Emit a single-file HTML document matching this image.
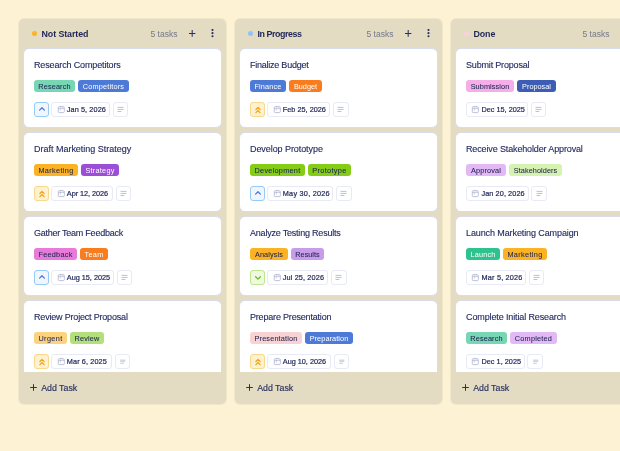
<!DOCTYPE html>
<html><head><meta charset="utf-8"><style>
*{box-sizing:border-box;margin:0;padding:0}
html,body{width:620px;height:451px;overflow:hidden;background:#fdf3d4;font-family:"Liberation Sans",sans-serif;color:#232a5c}
.col{position:absolute;top:18px;width:209px;height:387px;border-radius:6px;overflow:hidden;will-change:transform;box-shadow:inset 0 0 0 1px rgba(227,219,194,0.5)}
.col::before{content:"";position:absolute;left:1px;top:1px;right:1px;bottom:1px;background:#e3dbc2;border-radius:5px}
.dot{position:absolute;left:13.5px;top:13.3px;width:5px;height:5px;border-radius:50%}
.ctitle{position:absolute;left:23.5px;top:10.6px;font-size:8.9px;font-weight:bold;line-height:11px;color:#1f2657;white-space:nowrap}
.cnt{position:absolute;left:132.5px;top:10.5px;font-size:8.5px;line-height:10px;color:#74788b;white-space:nowrap}
.plus{position:absolute;left:170.8px;top:12.1px;display:block}
.kebab{position:absolute;left:192.6px;top:11.1px;display:block}
.list{position:absolute;left:5px;top:30px;width:199px;height:324px;overflow:hidden}
.card{position:absolute;left:0;width:199px;height:80px;background:#fff;border:1px solid #d8dbea;border-radius:6px}
.t{position:absolute;left:10px;top:10.6px;font-size:9px;line-height:11px;white-space:nowrap;color:#232a60;-webkit-text-stroke:0.12px #232a60}
.tags{position:absolute;left:10px;top:31px;height:12px;display:flex;gap:3px}
.tag{height:12px;line-height:13px;font-size:7.3px;text-align:center;border-radius:3px;white-space:nowrap}
.row{position:absolute;left:10px;top:53px;height:14.5px;display:flex;gap:2.8px}
.pri{position:relative;width:14.5px;height:14.5px;border-radius:3px;border:1px solid}
.pi{position:absolute;display:block}
.date{position:relative;height:14.5px;border:1px solid #e8eaf5;border-radius:3px;font-size:7.3px;color:#23295a;-webkit-text-stroke:0.2px #23295a;white-space:nowrap}
.date .cal{position:absolute;left:4.3px;top:1.7px;display:block}
.date span{position:absolute;left:14.5px;top:2.5px;line-height:8px}
.desc{position:relative;width:15.5px;height:14.5px;border:1px solid #e8eaf5;border-radius:3px}
.add{position:absolute;left:0;top:354px;width:209px;height:32px}
.add span{position:absolute;left:23.2px;top:10.5px;font-size:8.8px;line-height:11px;color:#2a3060;-webkit-text-stroke:0.15px currentColor}
.add svg{position:absolute;left:12px;top:12.4px;display:block}
.blue{background:#f0f6fe;border-color:#96cbf7}
.amber{background:#fdf1d2;border-color:#f8d88a}
.green{background:#eef9e0;border-color:#bde68f}
</style></head><body>
<div class="col" style="left:18px">
<div class="dot" style="background:#fbb32a"></div><div class="ctitle" style="letter-spacing:-0.090px">Not Started</div><div class="cnt">5 tasks</div><span class="plus"><svg width="7" height="7" viewBox="0 0 7 7" style="display:block"><path d="M3.2 0V6.8M0 3.4H6.4" stroke="#2a3060" stroke-width="1.05"/></svg></span><span class="kebab"><svg width="3" height="9" viewBox="0 0 3 9" style="display:block"><circle cx="1.5" cy="1" r="1.05" fill="#2a3060"/><circle cx="1.5" cy="4.15" r="1.05" fill="#2a3060"/><circle cx="1.5" cy="7.3" r="1.05" fill="#2a3060"/></svg></span>
<div class="list">
<div class="card" style="top:0px"><div class="t" style="letter-spacing:-0.142px">Research Competitors</div><div class="tags"><span class="tag" style="width:41px;background:#78d6b5;color:#1e2452;-webkit-text-stroke:0.06px #1e2452;letter-spacing:0.129px">Research</span><span class="tag" style="width:51px;background:#4d7ad7;color:#fff;letter-spacing:0.180px">Competitors</span></div><div class="row"><div class="pri blue"><svg class="pi" width="8" height="6" viewBox="0 0 8 6" style="left:2.5px;top:3.3px"><path d="M1.6 4.1L4 1.7L6.4 4.1" fill="none" stroke="#5576d6" stroke-width="1.3" stroke-linecap="round" stroke-linejoin="round"/></svg></div><div class="date" style="width:58.5px"><svg class="cal" width="9" height="9" viewBox="0 0 9 9"><rect x="1.3" y="1.7" width="6" height="5.9" rx="0.9" fill="none" stroke="#b7bbd5" stroke-width="0.9"/><path d="M1.3 3.4H7.3M3.3 0.9V2.3M5.3 0.9V2.3M3.3 3.4V5.4" stroke="#b7bbd5" stroke-width="0.8"/></svg><span style="letter-spacing:0.090px">Jan 5, 2026</span></div><div class="desc"><svg width="8" height="8" viewBox="0 0 8 8" style="position:absolute;left:3.4px;top:3px;display:block"><path d="M0.5 1.4H6.5M0.5 3.45H6.5M0.5 5.5H4.4" stroke="#b4b8d6" stroke-width="0.9"/></svg></div></div></div>
<div class="card" style="top:84px"><div class="t" style="letter-spacing:-0.013px">Draft Marketing Strategy</div><div class="tags"><span class="tag" style="width:44px;background:#fbb325;color:#1e2452;-webkit-text-stroke:0.06px #1e2452;letter-spacing:0.338px">Marketing</span><span class="tag" style="width:38px;background:#9b4fd6;color:#fff;letter-spacing:0.258px">Strategy</span></div><div class="row"><div class="pri amber"><svg class="pi" width="8" height="8" viewBox="0 0 8 8" style="left:2.6px;top:2.5px"><path d="M1.9 3.5L4 1.3L6.1 3.5M1.9 6.7L4 4.5L6.1 6.7" fill="none" stroke="#f0a519" stroke-width="1.2" stroke-linecap="round" stroke-linejoin="round"/></svg></div><div class="date" style="width:61.5px"><svg class="cal" width="9" height="9" viewBox="0 0 9 9"><rect x="1.3" y="1.7" width="6" height="5.9" rx="0.9" fill="none" stroke="#b7bbd5" stroke-width="0.9"/><path d="M1.3 3.4H7.3M3.3 0.9V2.3M5.3 0.9V2.3M3.3 3.4V5.4" stroke="#b7bbd5" stroke-width="0.8"/></svg><span style="letter-spacing:-0.038px">Apr 12, 2026</span></div><div class="desc"><svg width="8" height="8" viewBox="0 0 8 8" style="position:absolute;left:3.4px;top:3px;display:block"><path d="M0.5 1.4H6.5M0.5 3.45H6.5M0.5 5.5H4.4" stroke="#b4b8d6" stroke-width="0.9"/></svg></div></div></div>
<div class="card" style="top:168px"><div class="t" style="letter-spacing:-0.249px">Gather Team Feedback</div><div class="tags"><span class="tag" style="width:43px;background:#e87ad9;color:#1e2452;-webkit-text-stroke:0.06px #1e2452;letter-spacing:0.257px">Feedback</span><span class="tag" style="width:28px;background:#f97c1f;color:#fff;letter-spacing:0.300px">Team</span></div><div class="row"><div class="pri blue"><svg class="pi" width="8" height="6" viewBox="0 0 8 6" style="left:2.5px;top:3.3px"><path d="M1.6 4.1L4 1.7L6.4 4.1" fill="none" stroke="#5576d6" stroke-width="1.3" stroke-linecap="round" stroke-linejoin="round"/></svg></div><div class="date" style="width:62.5px"><svg class="cal" width="9" height="9" viewBox="0 0 9 9"><rect x="1.3" y="1.7" width="6" height="5.9" rx="0.9" fill="none" stroke="#b7bbd5" stroke-width="0.9"/><path d="M1.3 3.4H7.3M3.3 0.9V2.3M5.3 0.9V2.3M3.3 3.4V5.4" stroke="#b7bbd5" stroke-width="0.8"/></svg><span style="letter-spacing:-0.011px">Aug 15, 2025</span></div><div class="desc"><svg width="8" height="8" viewBox="0 0 8 8" style="position:absolute;left:3.4px;top:3px;display:block"><path d="M0.5 1.4H6.5M0.5 3.45H6.5M0.5 5.5H4.4" stroke="#b4b8d6" stroke-width="0.9"/></svg></div></div></div>
<div class="card" style="top:252px"><div class="t" style="letter-spacing:-0.189px">Review Project Proposal</div><div class="tags"><span class="tag" style="width:33px;background:#fcd27e;color:#1e2452;-webkit-text-stroke:0.06px #1e2452;letter-spacing:0.360px">Urgent</span><span class="tag" style="width:34px;background:#b3e07a;color:#1e2452;-webkit-text-stroke:0.06px #1e2452;letter-spacing:0.180px">Review</span></div><div class="row"><div class="pri amber"><svg class="pi" width="8" height="8" viewBox="0 0 8 8" style="left:2.6px;top:2.5px"><path d="M1.9 3.5L4 1.3L6.1 3.5M1.9 6.7L4 4.5L6.1 6.7" fill="none" stroke="#f0a519" stroke-width="1.2" stroke-linecap="round" stroke-linejoin="round"/></svg></div><div class="date" style="width:60.6px"><svg class="cal" width="9" height="9" viewBox="0 0 9 9"><rect x="1.3" y="1.7" width="6" height="5.9" rx="0.9" fill="none" stroke="#b7bbd5" stroke-width="0.9"/><path d="M1.3 3.4H7.3M3.3 0.9V2.3M5.3 0.9V2.3M3.3 3.4V5.4" stroke="#b7bbd5" stroke-width="0.8"/></svg><span style="letter-spacing:0.108px">Mar 6, 2025</span></div><div class="desc"><svg width="8" height="8" viewBox="0 0 8 8" style="position:absolute;left:4.6px;top:3.8px;display:block"><rect x="0.2" y="0.5" width="5.1" height="2.6" fill="#d3d6e8"/><path d="M0.2 4.3H3.9" stroke="#c2c6dd" stroke-width="0.9"/></svg></div></div></div>
</div>
<div class="add"><svg width="7" height="7" viewBox="0 0 7 7"><path d="M3.5 0.2V6.8M0.2 3.5H6.8" stroke="#2a3060" stroke-width="1"/></svg><span>Add Task</span></div>
</div>
<div class="col" style="left:234px">
<div class="dot" style="background:#93c2f5"></div><div class="ctitle" style="letter-spacing:-0.432px">In Progress</div><div class="cnt">5 tasks</div><span class="plus"><svg width="7" height="7" viewBox="0 0 7 7" style="display:block"><path d="M3.2 0V6.8M0 3.4H6.4" stroke="#2a3060" stroke-width="1.05"/></svg></span><span class="kebab"><svg width="3" height="9" viewBox="0 0 3 9" style="display:block"><circle cx="1.5" cy="1" r="1.05" fill="#2a3060"/><circle cx="1.5" cy="4.15" r="1.05" fill="#2a3060"/><circle cx="1.5" cy="7.3" r="1.05" fill="#2a3060"/></svg></span>
<div class="list">
<div class="card" style="top:0px"><div class="t" style="letter-spacing:-0.239px">Finalize Budget</div><div class="tags"><span class="tag" style="width:36px;background:#4d7ad7;color:#fff;letter-spacing:0.150px">Finance</span><span class="tag" style="width:33px;background:#f97c1f;color:#fff;letter-spacing:0.000px">Budget</span></div><div class="row"><div class="pri amber"><svg class="pi" width="8" height="8" viewBox="0 0 8 8" style="left:2.6px;top:2.5px"><path d="M1.9 3.5L4 1.3L6.1 3.5M1.9 6.7L4 4.5L6.1 6.7" fill="none" stroke="#f0a519" stroke-width="1.2" stroke-linecap="round" stroke-linejoin="round"/></svg></div><div class="date" style="width:63px"><svg class="cal" width="9" height="9" viewBox="0 0 9 9"><rect x="1.3" y="1.7" width="6" height="5.9" rx="0.9" fill="none" stroke="#b7bbd5" stroke-width="0.9"/><path d="M1.3 3.4H7.3M3.3 0.9V2.3M5.3 0.9V2.3M3.3 3.4V5.4" stroke="#b7bbd5" stroke-width="0.8"/></svg><span style="letter-spacing:0.010px">Feb 25, 2026</span></div><div class="desc"><svg width="8" height="8" viewBox="0 0 8 8" style="position:absolute;left:3.4px;top:3px;display:block"><path d="M0.5 1.4H6.5M0.5 3.45H6.5M0.5 5.5H4.4" stroke="#b4b8d6" stroke-width="0.9"/></svg></div></div></div>
<div class="card" style="top:84px"><div class="t" style="letter-spacing:-0.072px">Develop Prototype</div><div class="tags"><span class="tag" style="width:55px;background:#84cc16;color:#1e2452;-webkit-text-stroke:0.06px #1e2452;letter-spacing:0.270px">Development</span><span class="tag" style="width:43px;background:#84cc16;color:#1e2452;-webkit-text-stroke:0.06px #1e2452;letter-spacing:0.338px">Prototype</span></div><div class="row"><div class="pri blue"><svg class="pi" width="8" height="6" viewBox="0 0 8 6" style="left:2.5px;top:3.3px"><path d="M1.6 4.1L4 1.7L6.4 4.1" fill="none" stroke="#5576d6" stroke-width="1.3" stroke-linecap="round" stroke-linejoin="round"/></svg></div><div class="date" style="width:66px"><svg class="cal" width="9" height="9" viewBox="0 0 9 9"><rect x="1.3" y="1.7" width="6" height="5.9" rx="0.9" fill="none" stroke="#b7bbd5" stroke-width="0.9"/><path d="M1.3 3.4H7.3M3.3 0.9V2.3M5.3 0.9V2.3M3.3 3.4V5.4" stroke="#b7bbd5" stroke-width="0.8"/></svg><span style="letter-spacing:0.239px">May 30, 2026</span></div><div class="desc"><svg width="8" height="8" viewBox="0 0 8 8" style="position:absolute;left:3.4px;top:3px;display:block"><path d="M0.5 1.4H6.5M0.5 3.45H6.5M0.5 5.5H4.4" stroke="#b4b8d6" stroke-width="0.9"/></svg></div></div></div>
<div class="card" style="top:168px"><div class="t" style="letter-spacing:-0.208px">Analyze Testing Results</div><div class="tags"><span class="tag" style="width:38px;background:#fbb325;color:#1e2452;-webkit-text-stroke:0.06px #1e2452;letter-spacing:0.128px">Analysis</span><span class="tag" style="width:33px;background:#c79ce8;color:#1e2452;-webkit-text-stroke:0.06px #1e2452;letter-spacing:0.000px">Results</span></div><div class="row"><div class="pri green"><svg class="pi" width="8" height="6" viewBox="0 0 8 6" style="left:2.5px;top:4px"><path d="M1.6 1.7L4 4.1L6.4 1.7" fill="none" stroke="#6cbb2c" stroke-width="1.3" stroke-linecap="round" stroke-linejoin="round"/></svg></div><div class="date" style="width:61px"><svg class="cal" width="9" height="9" viewBox="0 0 9 9"><rect x="1.3" y="1.7" width="6" height="5.9" rx="0.9" fill="none" stroke="#b7bbd5" stroke-width="0.9"/><path d="M1.3 3.4H7.3M3.3 0.9V2.3M5.3 0.9V2.3M3.3 3.4V5.4" stroke="#b7bbd5" stroke-width="0.8"/></svg><span style="letter-spacing:0.127px">Jul 25, 2026</span></div><div class="desc"><svg width="8" height="8" viewBox="0 0 8 8" style="position:absolute;left:3.4px;top:3px;display:block"><path d="M0.5 1.4H6.5M0.5 3.45H6.5M0.5 5.5H4.4" stroke="#b4b8d6" stroke-width="0.9"/></svg></div></div></div>
<div class="card" style="top:252px"><div class="t" style="letter-spacing:-0.189px">Prepare Presentation</div><div class="tags"><span class="tag" style="width:52px;background:#f9d3d3;color:#1e2452;-webkit-text-stroke:0.06px #1e2452;letter-spacing:0.164px">Presentation</span><span class="tag" style="width:48px;background:#4d7ad7;color:#fff;letter-spacing:0.090px">Preparation</span></div><div class="row"><div class="pri amber"><svg class="pi" width="8" height="8" viewBox="0 0 8 8" style="left:2.6px;top:2.5px"><path d="M1.9 3.5L4 1.3L6.1 3.5M1.9 6.7L4 4.5L6.1 6.7" fill="none" stroke="#f0a519" stroke-width="1.2" stroke-linecap="round" stroke-linejoin="round"/></svg></div><div class="date" style="width:63.5px"><svg class="cal" width="9" height="9" viewBox="0 0 9 9"><rect x="1.3" y="1.7" width="6" height="5.9" rx="0.9" fill="none" stroke="#b7bbd5" stroke-width="0.9"/><path d="M1.3 3.4H7.3M3.3 0.9V2.3M5.3 0.9V2.3M3.3 3.4V5.4" stroke="#b7bbd5" stroke-width="0.8"/></svg><span style="letter-spacing:-0.011px">Aug 10, 2026</span></div><div class="desc"><svg width="8" height="8" viewBox="0 0 8 8" style="position:absolute;left:4.6px;top:3.8px;display:block"><rect x="0.2" y="0.5" width="5.1" height="2.6" fill="#d3d6e8"/><path d="M0.2 4.3H3.9" stroke="#c2c6dd" stroke-width="0.9"/></svg></div></div></div>
</div>
<div class="add"><svg width="7" height="7" viewBox="0 0 7 7"><path d="M3.5 0.2V6.8M0.2 3.5H6.8" stroke="#2a3060" stroke-width="1"/></svg><span>Add Task</span></div>
</div>
<div class="col" style="left:450px">
<div class="dot" style="background:#f8d3dc"></div><div class="ctitle" style="letter-spacing:-0.120px">Done</div><div class="cnt">5 tasks</div>
<div class="list">
<div class="card" style="top:0px"><div class="t" style="letter-spacing:-0.175px">Submit Proposal</div><div class="tags"><span class="tag" style="width:48px;background:#f5aee8;color:#1e2452;-webkit-text-stroke:0.06px #1e2452;letter-spacing:0.100px">Submission</span><span class="tag" style="width:39px;background:#3d5db5;color:#fff;letter-spacing:0.000px">Proposal</span></div><div class="row"><div class="date" style="width:62px"><svg class="cal" width="9" height="9" viewBox="0 0 9 9"><rect x="1.3" y="1.7" width="6" height="5.9" rx="0.9" fill="none" stroke="#b7bbd5" stroke-width="0.9"/><path d="M1.3 3.4H7.3M3.3 0.9V2.3M5.3 0.9V2.3M3.3 3.4V5.4" stroke="#b7bbd5" stroke-width="0.8"/></svg><span style="letter-spacing:0.000px">Dec 15, 2025</span></div><div class="desc"><svg width="8" height="8" viewBox="0 0 8 8" style="position:absolute;left:3.4px;top:3px;display:block"><path d="M0.5 1.4H6.5M0.5 3.45H6.5M0.5 5.5H4.4" stroke="#b4b8d6" stroke-width="0.9"/></svg></div></div></div>
<div class="card" style="top:84px"><div class="t" style="letter-spacing:-0.137px">Receive Stakeholder Approval</div><div class="tags"><span class="tag" style="width:40px;background:#e2b8f5;color:#1e2452;-webkit-text-stroke:0.06px #1e2452;letter-spacing:0.128px">Approval</span><span class="tag" style="width:53px;background:#d6f2b0;color:#1e2452;-webkit-text-stroke:0.06px #1e2452;letter-spacing:0.082px">Stakeholders</span></div><div class="row"><div class="date" style="width:62.5px"><svg class="cal" width="9" height="9" viewBox="0 0 9 9"><rect x="1.3" y="1.7" width="6" height="5.9" rx="0.9" fill="none" stroke="#b7bbd5" stroke-width="0.9"/><path d="M1.3 3.4H7.3M3.3 0.9V2.3M5.3 0.9V2.3M3.3 3.4V5.4" stroke="#b7bbd5" stroke-width="0.8"/></svg><span style="letter-spacing:0.081px">Jan 20, 2026</span></div><div class="desc"><svg width="8" height="8" viewBox="0 0 8 8" style="position:absolute;left:3.4px;top:3px;display:block"><path d="M0.5 1.4H6.5M0.5 3.45H6.5M0.5 5.5H4.4" stroke="#b4b8d6" stroke-width="0.9"/></svg></div></div></div>
<div class="card" style="top:168px"><div class="t" style="letter-spacing:-0.103px">Launch Marketing Campaign</div><div class="tags"><span class="tag" style="width:34px;background:#2ec28e;color:#fff;letter-spacing:0.180px">Launch</span><span class="tag" style="width:44px;background:#fbb325;color:#1e2452;-webkit-text-stroke:0.06px #1e2452;letter-spacing:0.338px">Marketing</span></div><div class="row"><div class="date" style="width:60px"><svg class="cal" width="9" height="9" viewBox="0 0 9 9"><rect x="1.3" y="1.7" width="6" height="5.9" rx="0.9" fill="none" stroke="#b7bbd5" stroke-width="0.9"/><path d="M1.3 3.4H7.3M3.3 0.9V2.3M5.3 0.9V2.3M3.3 3.4V5.4" stroke="#b7bbd5" stroke-width="0.8"/></svg><span style="letter-spacing:0.198px">Mar 5, 2026</span></div><div class="desc"><svg width="8" height="8" viewBox="0 0 8 8" style="position:absolute;left:3.4px;top:3px;display:block"><path d="M0.5 1.4H6.5M0.5 3.45H6.5M0.5 5.5H4.4" stroke="#b4b8d6" stroke-width="0.9"/></svg></div></div></div>
<div class="card" style="top:252px"><div class="t" style="letter-spacing:-0.122px">Complete Initial Research</div><div class="tags"><span class="tag" style="width:41px;background:#78d6b5;color:#1e2452;-webkit-text-stroke:0.06px #1e2452;letter-spacing:0.129px">Research</span><span class="tag" style="width:47px;background:#e2b8f5;color:#1e2452;-webkit-text-stroke:0.06px #1e2452;letter-spacing:0.225px">Completed</span></div><div class="row"><div class="date" style="width:58.5px"><svg class="cal" width="9" height="9" viewBox="0 0 9 9"><rect x="1.3" y="1.7" width="6" height="5.9" rx="0.9" fill="none" stroke="#b7bbd5" stroke-width="0.9"/><path d="M1.3 3.4H7.3M3.3 0.9V2.3M5.3 0.9V2.3M3.3 3.4V5.4" stroke="#b7bbd5" stroke-width="0.8"/></svg><span style="letter-spacing:0.018px">Dec 1, 2025</span></div><div class="desc"><svg width="8" height="8" viewBox="0 0 8 8" style="position:absolute;left:4.6px;top:3.8px;display:block"><rect x="0.2" y="0.5" width="5.1" height="2.6" fill="#d3d6e8"/><path d="M0.2 4.3H3.9" stroke="#c2c6dd" stroke-width="0.9"/></svg></div></div></div>
</div>
<div class="add"><svg width="7" height="7" viewBox="0 0 7 7"><path d="M3.5 0.2V6.8M0.2 3.5H6.8" stroke="#2a3060" stroke-width="1"/></svg><span>Add Task</span></div>
</div>
</body></html>
